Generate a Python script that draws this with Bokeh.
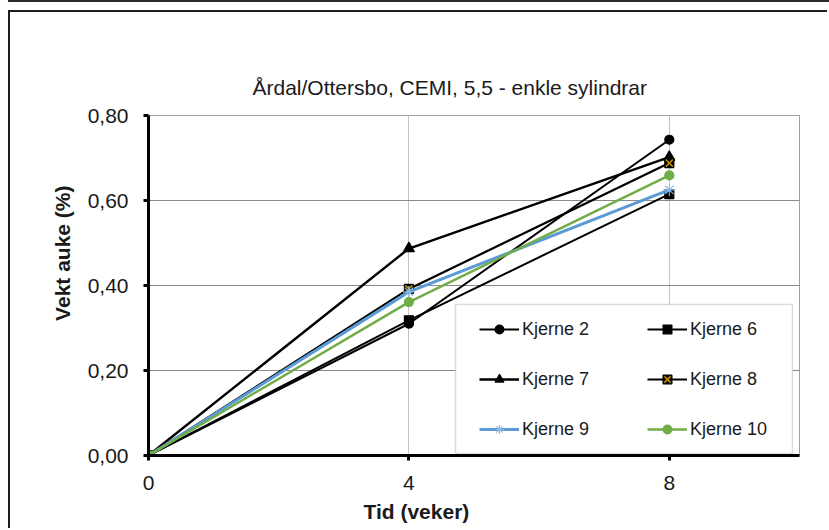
from bokeh.plotting import figure
from bokeh.models import (Legend, LegendItem, BoxAnnotation, Title, FixedTicker,
                          CustomJSTickFormatter, Range1d, InlineStyleSheet)
from bokeh.embed import file_html
from bokeh.resources import INLINE

# ---- data ----
weeks = [0, 4, 8]
kjerne_2 = [0.0, 0.310, 0.743]
kjerne_6 = [0.0, 0.318, 0.615]
kjerne_7 = [0.0, 0.487, 0.702]
kjerne_8 = [0.0, 0.392, 0.688]
kjerne_9 = [0.0, 0.385, 0.625]
kjerne_10 = [0.0, 0.361, 0.659]
series_labels = ["Kjerne 2", "Kjerne 6", "Kjerne 7", "Kjerne 8", "Kjerne 9", "Kjerne 10"]
x_ticks = [0, 4, 8]
y_ticks = [0.0, 0.2, 0.4, 0.6, 0.8]
title_text = "Årdal/Ottersbo, CEMI, 5,5 - enkle sylindrar"
x_title = "Tid (veker)"
y_title = "Vekt auke (%)"

FONT = "Liberation Sans"
TXT = "#1a1a1a"

p = figure(width=819, height=518, x_range=Range1d(0, 10), y_range=Range1d(0, 0.8),
           output_backend="svg", toolbar_location=None,
           min_border_left=138, min_border_right=30, min_border_top=103, min_border_bottom=75,
           background_fill_color="white", border_fill_color="white")
p.styles = {"margin-left": "10px", "margin-top": "12px", "position": "relative",
            "box-shadow": "-2px -2px 0 0 #1f1f1f"}
p.stylesheets = [InlineStyleSheet(css=":host::before { content: ''; position: absolute; "
                                      "top: -12px; left: -2px; right: 0; height: 2px; "
                                      "background: #2a2a2a; }")]

p.title.text = title_text
p.title.align = "left"
p.title.offset = 104
p.title.text_font = FONT
p.title.text_font_size = "21px"
p.title.text_font_style = "normal"
p.title.text_color = TXT
p.title.standoff = 34

p.outline_line_color = "#a0a0a0"
p.outline_line_width = 1

for ax in (p.xaxis[0], p.yaxis[0]):
    ax.axis_line_color = "black"
    ax.axis_line_width = 3
    ax.major_tick_line_color = "black"
    ax.major_tick_line_width = 3
    ax.major_tick_in = 0
    ax.major_tick_out = 5
    ax.minor_tick_line_color = None
    ax.major_label_text_font = FONT
    ax.major_label_text_font_size = "21px"
    ax.major_label_text_color = TXT

p.xaxis.ticker = FixedTicker(ticks=x_ticks)
p.yaxis.ticker = FixedTicker(ticks=y_ticks)
p.yaxis.formatter = CustomJSTickFormatter(code="return tick.toFixed(2).replace('.', ',');")
p.xaxis.major_label_standoff = 15
p.yaxis.major_label_standoff = 15

p.xgrid.ticker = FixedTicker(ticks=[t for t in x_ticks if t > 0])
p.ygrid.ticker = FixedTicker(ticks=[t for t in y_ticks if t > 0])
p.xgrid.grid_line_color = "#c4c4c4"
p.xgrid.grid_line_width = 1
p.ygrid.grid_line_color = "#8a8a8a"
p.ygrid.grid_line_width = 1

p.add_layout(Title(text=x_title, align="left", offset=215, text_font=FONT,
                   text_font_size="21px", text_font_style="bold", text_color=TXT,
                   standoff=10), "below")
p.add_layout(Title(text=y_title, align="right", offset=70, text_font=FONT,
                   text_font_size="21px", text_font_style="bold", text_color=TXT,
                   standoff=22), "left")

# ---- series ----
items = {}

def add_series(label, vals, color, width, marker, msize, mfill, mline):
    lr = p.line(weeks, vals, line_color=color, line_width=width)
    mr = p.scatter(weeks, vals, marker=marker, size=msize, fill_color=mfill, line_color=mline,
                   line_width=1.2)
    items[label] = [lr, mr]
    return lr, mr

add_series(series_labels[0], kjerne_2, "black", 2, "circle", 9, "black", "black")
add_series(series_labels[1], kjerne_6, "black", 2, "square", 9, "black", "black")
add_series(series_labels[2], kjerne_7, "black", 2.4, "triangle", 11, "black", "black")
add_series(series_labels[3], kjerne_8, "black", 2.2, "square", 9, "black", "black")
xr8 = p.scatter(weeks, kjerne_8, marker="x", size=10, line_color="#c09000", line_width=1.5)
items[series_labels[3]].append(xr8)
add_series(series_labels[4], kjerne_9, "#5b9bd5", 3, "asterisk", 12, None, "#8db8e6")
add_series(series_labels[5], kjerne_10, "#70ad47", 2.5, "circle", 9, "#70ad47", "#70ad47")

# ---- legend ----
box = BoxAnnotation(left=307, right=644, bottom=2, top=151,
                    left_units="screen", right_units="screen",
                    bottom_units="screen", top_units="screen",
                    fill_color="white", fill_alpha=1.0,
                    line_color="#8c8c8c", line_width=1.5)
p.add_layout(box)

def make_legend(labels, loc):
    lg = Legend(items=[LegendItem(label=l, renderers=items[l]) for l in labels],
                location=loc, orientation="vertical",
                background_fill_alpha=0, border_line_alpha=0,
                padding=9, spacing=20, margin=0,
                glyph_width=40, glyph_height=22, label_height=30, label_standoff=3,
                label_text_font=FONT, label_text_font_size="18px", label_text_color=TXT)
    return lg

p.add_layout(make_legend([series_labels[0], series_labels[2], series_labels[4]], (322, 2)))
p.add_layout(make_legend([series_labels[1], series_labels[3], series_labels[5]], (490, 2)))

open("out.html", "w").write(file_html(p, INLINE))
